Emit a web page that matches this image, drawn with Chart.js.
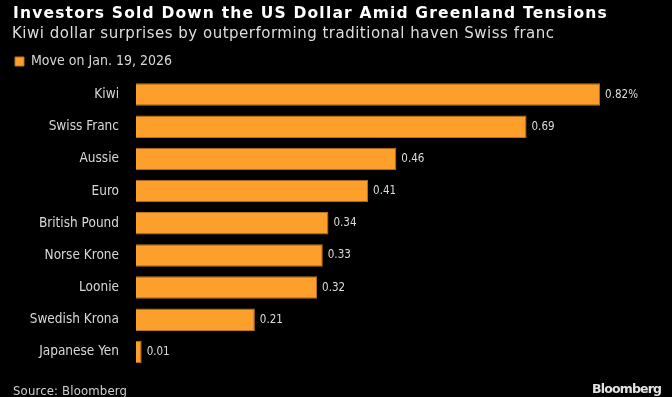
<!DOCTYPE html>
<html>
<head>
<meta charset="utf-8">
<script src="https://cdn.jsdelivr.net/npm/chart.js@4"></script>
<style>
html,body{margin:0;padding:0;background:#000;}
#wrap{position:relative;width:672px;height:397px;}
</style>
</head>
<body>
<div id="wrap"><canvas id="c" width="672" height="397"></canvas></div>
<script>
const titleText = "Investors Sold Down the US Dollar Amid Greenland Tensions";
const subtitleText = "Kiwi dollar surprises by outperforming traditional haven Swiss franc";
const seriesName = "Move on Jan. 19, 2026";
const categories = ["Kiwi","Swiss Franc","Aussie","Euro","British Pound","Norse Krone","Loonie","Swedish Krona","Japanese Yen"];
const values = [0.82,0.69,0.46,0.41,0.34,0.33,0.32,0.21,0.01];
const valueLabels = ["0.82%","0.69","0.46","0.41","0.34","0.33","0.32","0.21","0.01"];
const sourceText = "Source: Bloomberg";
const brandText = "Bloomberg";

const COND = "'DejaVu Sans Condensed', 'Liberation Sans Narrow', sans-serif";
const WIDE = "'DejaVu Sans', 'Liberation Sans', sans-serif";

// draw text with letter spacing chosen so the text spans the given width
function drawFitted(ctx, text, x, y, width, font, color, align) {
  ctx.save();
  ctx.font = font;
  ctx.letterSpacing = '0px';
  const w = ctx.measureText(text).width;
  const sp = (width - w) / Math.max(1, text.length - 1);
  ctx.letterSpacing = sp.toFixed(2) + 'px';
  ctx.fillStyle = color;
  ctx.textBaseline = 'alphabetic';
  ctx.textAlign = 'left';
  const x0 = align === 'right' ? x - width : x;
  ctx.fillText(text, x0, y);
  ctx.restore();
}

const headerPlugin = {
  id: 'header',
  afterDraw(chart) {
    const ctx = chart.ctx;
    drawFitted(ctx, titleText, 13, 17.5, 594, "bold 15.5px " + WIDE, '#ffffff');
    drawFitted(ctx, subtitleText, 12, 37.5, 542, "15px " + WIDE, '#dedede');
    drawFitted(ctx, sourceText, 13, 395, 114, "13px " + COND, '#cfcfcf');
    drawFitted(ctx, brandText, 662, 393, 70, "bold 12.5px " + WIDE, '#e2e2e2', 'right');
  }
};

const valueLabelPlugin = {
  id: 'valueLabels',
  afterDatasetsDraw(chart) {
    const ctx = chart.ctx;
    const meta = chart.getDatasetMeta(0);
    ctx.save();
    ctx.font = "11.5px " + COND;
    ctx.fillStyle = "#dcdcdc";
    ctx.textBaseline = "middle";
    ctx.textAlign = "left";
    meta.data.forEach((bar, i) => {
      ctx.fillText(valueLabels[i], bar.x + 5, bar.y);
    });
    ctx.restore();
  }
};

new Chart(document.getElementById('c'), {
  type: 'bar',
  data: {
    labels: categories,
    datasets: [{
      label: seriesName,
      data: values,
      backgroundColor: '#FD9F2B',
      borderColor: '#B9731F',
      borderWidth: 1,
      barPercentage: 0.7,
      categoryPercentage: 1.0
    }]
  },
  options: {
    indexAxis: 'y',
    responsive: false,
    animation: false,
    devicePixelRatio: 1,
    layout: { padding: { left: 3.5, right: 26.6, top: 43, bottom: 29 } },
    plugins: {
      title: { display: false },
      subtitle: { display: false },
      legend: {
        display: true, align: 'start',
        labels: {
          color: '#d8d8d8', font: { family: COND, size: 14 },
          boxWidth: 9, boxHeight: 9, padding: 11.5
        }
      },
      tooltip: { enabled: false }
    },
    scales: {
      x: { display: false, min: 0, max: 0.9 },
      y: {
        grid: { display: false, drawTicks: false },
        border: { display: false },
        ticks: { color: '#d8d8d8', font: { family: COND, size: 13.5 }, padding: 17 },
        afterFit(scale) { scale.width = 132.5; }
      }
    }
  },
  plugins: [valueLabelPlugin, headerPlugin]
});
</script>
</body>
</html>
